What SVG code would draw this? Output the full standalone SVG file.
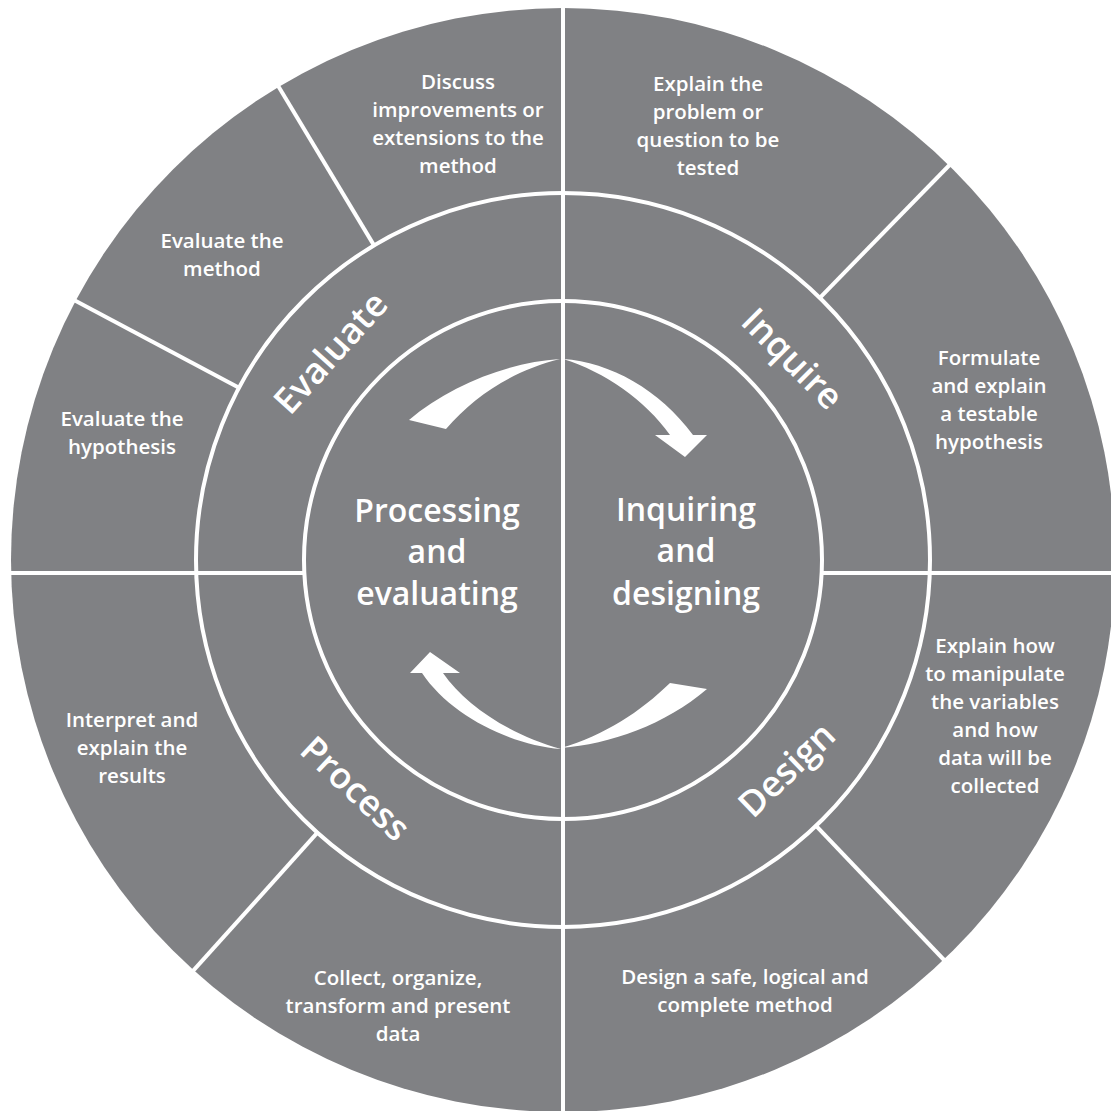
<svg xmlns="http://www.w3.org/2000/svg" width="1111" height="1111" viewBox="0 0 1111 1111">
<style>
.bg{fill:#808184}
.ln{stroke:#ffffff;stroke-width:4;fill:none}
.arr{fill:#ffffff}
.sm{font-family:"Open Sans","Noto Sans","Liberation Sans",sans-serif;font-weight:600;font-size:20.5px;fill:#ffffff;text-anchor:middle}
.md{font-family:"Open Sans","Noto Sans","Liberation Sans",sans-serif;font-weight:600;font-size:36px;fill:#ffffff;text-anchor:middle}
.lg{font-family:"Open Sans","Noto Sans","Liberation Sans",sans-serif;font-weight:600;font-size:32px;fill:#ffffff;text-anchor:middle}
</style>
<rect width="1111" height="1111" fill="#ffffff"/>
<circle class="bg" cx="563" cy="560" r="552"/>
<g id="connectors">
<circle class="ln" cx="563" cy="560" r="367"/>
<circle class="ln" cx="563" cy="560" r="259"/>
<line class="ln" x1="563" y1="0" x2="563" y2="1111"/>
<line class="ln" x1="8" y1="573" x2="304" y2="573"/>
<line class="ln" x1="822" y1="573" x2="1111" y2="573"/>
<line class="ln" x1="374" y1="245.4" x2="277" y2="84"/>
<line class="ln" x1="239" y1="387.7" x2="73" y2="299.5"/>
<line class="ln" x1="819.8" y1="297.8" x2="951" y2="163.5"/>
<line class="ln" x1="816.1" y1="825.8" x2="946" y2="962"/>
<line class="ln" x1="317.4" y1="832.7" x2="191.7" y2="972.4"/>
<path class="arr" d="M 560 359 C 510 362 450 385 409 420 L 446 429 C 475 395 515 370 560 359 Z"/>
<path class="arr" d="M 563 359 C 610 362 660 390 693 435 L 707 435 L 685 457 L 655 435 L 670 435 C 645 400 605 372 563 359 Z"/>
<path class="arr" d="M 561 749 C 510 745 450 715 422 673 L 410 673 L 430 652 L 460 673 L 443 673 C 465 705 510 735 561 749 Z"/>
<path class="arr" d="M 561 748 C 610 744 665 725 707 689 L 670 683 C 640 712 605 735 561 748 Z"/>
</g>
<g id="center-left"><text class="lg" x="437" y="522">Processing</text><text class="lg" x="437" y="563">and</text><text class="lg" x="437" y="605">evaluating</text></g>
<g id="center-right"><text class="lg" x="686" y="521">Inquiring</text><text class="lg" x="686" y="562">and</text><text class="lg" x="686" y="605">designing</text></g>
<g id="evaluate"><text class="md" transform="translate(331 353) rotate(-48)" y="12">Evaluate</text></g>
<g id="inquire"><text class="md" transform="translate(792 359) rotate(45)" y="12">Inquire</text></g>
<g id="design"><text class="md" transform="translate(787 770) rotate(-44)" y="12">Design</text></g>
<g id="process"><text class="md" transform="translate(355 789) rotate(43)" y="12">Process</text></g>
<g id="discuss"><text class="sm" x="458" y="89">Discuss</text><text class="sm" x="458" y="117">improvements or</text><text class="sm" x="458" y="145">extensions to the</text><text class="sm" x="458" y="173">method</text></g>
<g id="explain-problem"><text class="sm" x="708" y="91">Explain the</text><text class="sm" x="708" y="119">problem or</text><text class="sm" x="708" y="147">question to be</text><text class="sm" x="708" y="175">tested</text></g>
<g id="evaluate-method"><text class="sm" x="222" y="248">Evaluate the</text><text class="sm" x="222" y="276">method</text></g>
<g id="formulate"><text class="sm" x="989" y="365">Formulate</text><text class="sm" x="989" y="393">and explain</text><text class="sm" x="989" y="421">a testable</text><text class="sm" x="989" y="449">hypothesis</text></g>
<g id="evaluate-hypothesis"><text class="sm" x="122" y="426">Evaluate the</text><text class="sm" x="122" y="454">hypothesis</text></g>
<g id="explain-how"><text class="sm" x="995" y="653">Explain how</text><text class="sm" x="995" y="681">to manipulate</text><text class="sm" x="995" y="709">the variables</text><text class="sm" x="995" y="737">and how</text><text class="sm" x="995" y="765">data will be</text><text class="sm" x="995" y="793">collected</text></g>
<g id="design-method"><text class="sm" x="745" y="984">Design a safe, logical and</text><text class="sm" x="745" y="1012">complete method</text></g>
<g id="collect"><text class="sm" x="398" y="985">Collect, organize,</text><text class="sm" x="398" y="1013">transform and present</text><text class="sm" x="398" y="1041">data</text></g>
<g id="interpret"><text class="sm" x="132" y="727">Interpret and</text><text class="sm" x="132" y="755">explain the</text><text class="sm" x="132" y="783">results</text></g>
</svg>
